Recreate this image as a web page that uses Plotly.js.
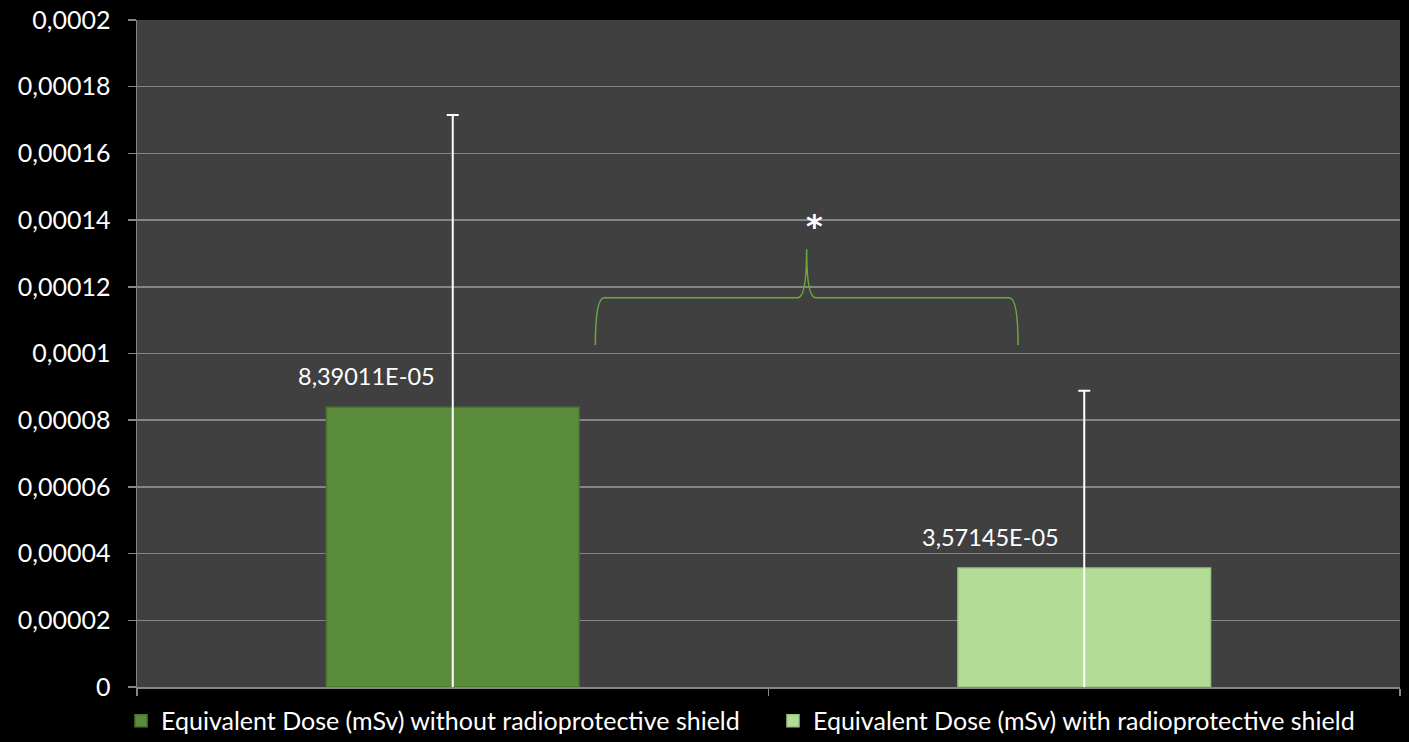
<!DOCTYPE html>
<html>
<head>
<meta charset="utf-8">
<script src="https://cdn.plot.ly/plotly-3.0.1.min.js"></script>
<style>
  html, body { margin: 0; padding: 0; background: #000; }
  #chart { width: 1409px; height: 742px; }
</style>
</head>
<body>
<div id="chart"></div>
<script>
// Equivalent dose per condition (mSv), with the upper standard deviation
const categories = ['Without shield', 'With shield'];
const seriesNames = [
  'Equivalent Dose (mSv) without radioprotective shield',
  'Equivalent Dose (mSv) with radioprotective shield'
];
const doseValues = [8.39011E-05, 3.57145E-05];
const doseErrors = [8.76e-05, 5.31e-05];
const significanceMark = '*';

// Styling
const barColors = ['#5b8c3b', '#b3dc97'];
const barEdges = ['#4a7631', '#9cc783'];
const labelShift = [-86, -94];
const legendIds = ['legend', 'legend2'];
const legendLeft = [0.0859, 0.5486];
const fontFamily = 'Lato, "Open Sans", sans-serif';

// Excel-like scientific notation with a decimal comma, e.g. 8,39011E-05
function sciLabel(v) {
  const parts = v.toExponential(5).split('e');
  const exp = parseInt(parts[1], 10);
  return parts[0].replace('.', ',') + 'E' + (exp < 0 ? '-' : '+') +
         String(Math.abs(exp)).padStart(2, '0');
}

const traces = categories.map((cat, i) => ({
  type: 'bar',
  name: seriesNames[i],
  legend: legendIds[i],
  x: [cat],
  y: [doseValues[i]],
  marker: { color: barColors[i], line: { color: barEdges[i], width: 1.5 } },
  error_y: {
    type: 'data',
    array: [doseErrors[i]],
    symmetric: true,
    color: '#ffffff',
    thickness: 2,
    width: 6
  },
  hoverinfo: 'skip'
}));

const valueLabels = categories.map((cat, i) => ({
  xref: 'x', yref: 'y',
  x: cat, y: doseValues[i],
  text: sciLabel(doseValues[i]),
  showarrow: false,
  yanchor: 'middle',
  yshift: 31,
  xshift: labelShift[i],
  font: { family: fontFamily, size: 23.5, color: '#ffffff' }
}));

// Significance brace between the two groups (paper coordinates)
const bx0 = 0.3629, bx1 = 0.6976, bpk = 0.5302;
const byEnd = 0.5127, byBar = 0.5837, byPeak = 0.6562;
const bracePath =
  `M ${bx0},${byEnd} Q ${bx0},${byBar} ${bx0 + 0.007},${byBar} ` +
  `L ${bpk - 0.007},${byBar} Q ${bpk},${byBar} ${bpk},${byPeak} ` +
  `Q ${bpk},${byBar} ${bpk + 0.007},${byBar} ` +
  `L ${bx1 - 0.007},${byBar} Q ${bx1},${byBar} ${bx1},${byEnd}`;

function legendBox(x) {
  return {
    orientation: 'h',
    xref: 'container', yref: 'container',
    x: x,
    xanchor: 'left',
    y: 0.0593,
    yanchor: 'top',
    bgcolor: 'rgba(0,0,0,0)',
    font: { family: fontFamily, size: 25, color: '#ffffff' }
  };
}

const layout = {
  width: 1409,
  height: 742,
  margin: { l: 137, r: 9, t: 20, b: 55, autoexpand: false },
  paper_bgcolor: '#000000',
  plot_bgcolor: '#404040',
  separators: ', ',
  barmode: 'overlay',
  bargap: 0.6,
  showlegend: true,
  font: { family: fontFamily, color: '#ffffff' },
  xaxis: {
    type: 'category',
    categoryorder: 'array',
    categoryarray: categories,
    showticklabels: false,
    showgrid: false,
    showline: true,
    linecolor: '#868686',
    linewidth: 1.5,
    ticks: 'outside',
    tickson: 'boundaries',
    ticklen: 7,
    tickcolor: '#868686',
    tickwidth: 1.5,
    zeroline: false
  },
  yaxis: {
    range: [0, 0.0002],
    dtick: 0.00002,
    tick0: 0,
    tickformat: '.5~f',
    showgrid: true,
    gridcolor: '#858585',
    gridwidth: 1.5,
    showline: true,
    linecolor: '#868686',
    linewidth: 1.5,
    ticks: 'outside',
    ticklen: 8,
    tickcolor: '#868686',
    tickwidth: 1.5,
    ticklabelstandoff: 12,
    zeroline: false,
    tickfont: { family: fontFamily, size: 25, color: '#ffffff' }
  },
  legend: legendBox(legendLeft[0]),
  legend2: legendBox(legendLeft[1]),
  shapes: [{
    type: 'path',
    xref: 'paper', yref: 'paper',
    path: bracePath,
    line: { color: '#6aab3e', width: 1.5 }
  }],
  annotations: valueLabels.concat([{
    xref: 'paper', yref: 'paper',
    x: 0.5368, y: 0.6912,
    text: '<b>' + significanceMark + '</b>',
    showarrow: false,
    xanchor: 'center', yanchor: 'middle',
    font: { family: '"DejaVu Sans", sans-serif', size: 32, color: '#ffffff' }
  }])
};

Plotly.newPlot('chart', traces, layout, { displayModeBar: false, staticPlot: true });
</script>
</body>
</html>
